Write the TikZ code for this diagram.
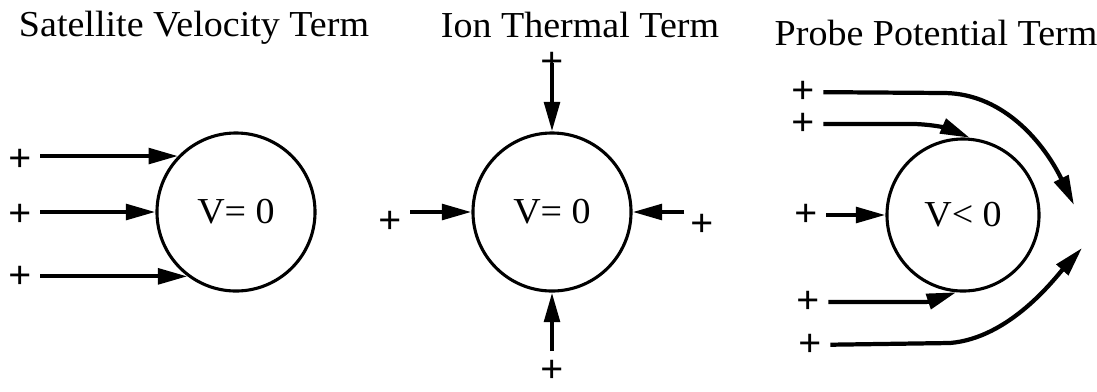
\documentclass[tikz,border=0pt]{standalone}
\usepackage{fontspec}
\setmainfont{Liberation Serif}[FakeStretch=1.04]
\usetikzlibrary{arrows.meta}
\begin{document}
\begin{tikzpicture}[x=0.025cm,y=-0.025cm,
		every node/.style={font=\fontsize{26}{30}\selectfont},
		probe/.style={draw,circle,line width=2.2pt,minimum size=3.95cm,inner sep=0pt},
		ion/.style={font=\fontsize{28}{30}\selectfont\bfseries,inner sep=0pt},
		flow/.style={line width=3pt,-{Triangle[length=21pt,width=11pt]}},
		gap/.style={shorten <=6pt}]
	\useasboundingbox (0,0) rectangle (1097,391);
	% titles
	\node[anchor=base] (h1) at (194,36) {Satellite Velocity Term};
	\node[anchor=base] (h2) at (580,37) {Ion Thermal Term};
	\node[anchor=base] (h3) at (936,45) {Probe Potential Term};
	% satellite velocity
	\node[probe] (c1) at (236,212) {V= 0};
	\node[ion] (a1) at (20,160) {+};
	\node[ion] (a2) at (20,215) {+};
	\node[ion] (a3) at (20,277) {+};
	\draw[flow,gap] (a1.east |- c1.136) -- (c1.136);
	\draw[flow,gap] (a2.east |- c1.west) -- (c1.west);
	\draw[flow,gap] (a3.east |- c1.233) -- (c1.233);
	% ion thermal
	\node[probe] (c2) at (552,212) {V= 0};
	\node[ion] (t2) at (552,63) {+};
	\node[ion] (b2) at (552,371) {+};
	\node[ion] (l2) at (390,222) {+};
	\node[ion] (r2) at (702,225) {+};
	\draw[flow] (t2.center) -- (c2.north);
	\draw[flow,gap] (b2.north) -- (c2.south);
	\draw[flow,gap] (l2.east |- c2.west) -- (c2.west);
	\draw[flow,shorten <=4pt] (r2.west |- c2.east) -- (c2.east);
	% probe potential
	\node[probe,minimum size=3.8cm] (c3) at (963,215) {V< 0};
	\node[ion] (p1) at (803,92) {+};
	\node[ion] (p2) at (803,124) {+};
	\node[ion] (p3) at (806,215) {+};
	\node[ion] (p4) at (808,302) {+};
	\node[ion] (p5) at (810,345) {+};
	\coordinate (g1) at (1074,205);
	\coordinate (g2) at (1082,248);
	\draw[flow,gap] (p1) -- (945,93) .. controls (1005,94) and (1045,145) .. (g1);
	\draw[flow,gap] (p2) -- (915,124) .. controls (940,125) and (952,130) .. (c3.85);
	\draw[flow,gap] (p3) -- (c3.west);
	\draw[flow,gap] (p4) -- (925,302) .. controls (935,302) and (945,296) .. (c3.265);
	\draw[flow,gap] (p5) -- (950,343) .. controls (1010,338) and (1055,278) .. (g2);
\end{tikzpicture}
\end{document}
